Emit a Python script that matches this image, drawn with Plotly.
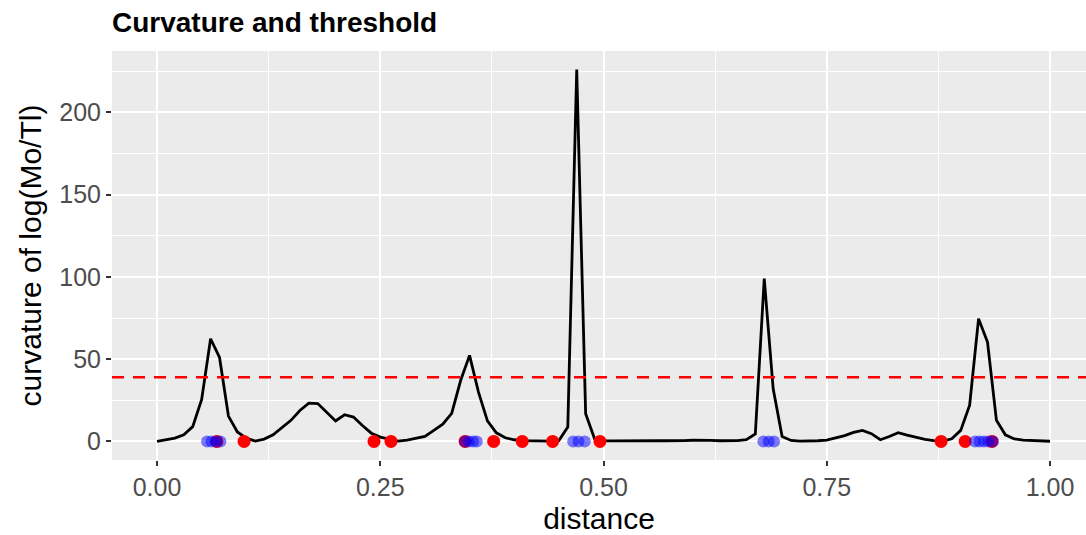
import plotly.graph_objects as go

# curvature sampled on a regular distance grid (0.00 .. 1.00, step 0.01)
distance = [i / 100 for i in range(101)]
curvature = [
    0.0, 1.0, 2.0, 4.0, 9.0, 25.5, 62.4, 51.0, 15.4, 5.7,      # 0.00-0.09
    2.0, 0.2, 1.4, 4.0, 8.3, 12.8, 18.8, 23.3, 23.0, 17.8,     # 0.10-0.19
    12.4, 16.2, 14.8, 9.7, 5.0, 2.6, 1.2, 0.2, 0.8, 1.8,       # 0.20-0.29
    3.0, 6.7, 10.5, 17.0, 37.0, 52.3, 30.0, 12.5, 5.2, 2.2,    # 0.30-0.39
    1.0, 0.5, 0.3, 0.2, 0.2, 0.5, 8.7, 226.0, 16.8, 1.6,       # 0.40-0.49
    0.3, 0.3, 0.4, 0.4, 0.5, 0.5, 0.5, 0.4, 0.3, 0.5,          # 0.50-0.59
    0.7, 0.8, 0.6, 0.4, 0.3, 0.5, 1.0, 4.5, 99.0, 32.0,        # 0.60-0.69
    3.0, 0.6, 0.2, 0.1, 0.4, 0.8, 2.0, 3.5, 5.5, 6.7,          # 0.70-0.79
    4.7, 1.0, 3.0, 5.3, 3.8, 2.3, 1.2, 0.5, 0.2, 1.6,          # 0.80-0.89
    6.7, 22.0, 74.6, 60.4, 12.8, 4.0, 1.5, 0.8, 0.5, 0.3,      # 0.90-0.99
    0.1,                                                       # 1.00
]
threshold = 39.0

# candidate positions (red) and positions flagged above threshold (blue)
red_x = [0.067, 0.0975, 0.243, 0.262, 0.345, 0.377, 0.409, 0.443, 0.496,
         0.878, 0.905, 0.935]
blue_x = [0.056, 0.061, 0.066, 0.071,
          0.345, 0.349, 0.354, 0.358,
          0.466, 0.472, 0.479,
          0.679, 0.685, 0.691,
          0.916, 0.921, 0.926, 0.931, 0.936]

x_ticks = [0.0, 0.25, 0.5, 0.75, 1.0]
x_tick_text = ["0.00", "0.25", "0.50", "0.75", "1.00"]
y_ticks = [0, 50, 100, 150, 200]

FONT = "Liberation Sans, Arial, sans-serif"

fig = go.Figure()
fig.add_trace(go.Scatter(
    x=distance, y=curvature, mode="lines",
    line=dict(color="black", width=2.8), hoverinfo="skip", showlegend=False,
))
fig.add_hline(y=threshold, line=dict(color="#FF0000", width=2.6, dash="12px,9px"))
fig.add_trace(go.Scatter(
    x=red_x, y=[0] * len(red_x), mode="markers",
    marker=dict(color="#FF0000", size=13, line=dict(width=0)), showlegend=False,
))
fig.add_trace(go.Scatter(
    x=blue_x, y=[0] * len(blue_x), mode="markers",
    marker=dict(color="rgba(0,0,255,0.5)", size=12, line=dict(width=0)), showlegend=False,
))

fig.update_layout(
    width=1086, height=535,
    margin=dict(l=112, r=0, t=51, b=75),
    paper_bgcolor="white", plot_bgcolor="#EBEBEB",
    font=dict(family=FONT, color="black"),
    title=dict(
        text="<b>Curvature and threshold</b>",
        font=dict(family=FONT, size=28, color="black"),
        x=112 / 1086, xanchor="left", xref="container",
        y=1 - 22 / 535, yanchor="middle", yref="container",
    ),
    xaxis=dict(
        range=[-0.0504, 1.0403], tickvals=x_ticks, ticktext=x_tick_text,
        showgrid=True, gridcolor="white", gridwidth=2, zeroline=False,
        ticks="outside", ticklen=5, tickwidth=1.5, tickcolor="#333333",
        tickfont=dict(size=25, color="#4D4D4D"),
        minor=dict(tickvals=[0.125, 0.375, 0.625, 0.875], showgrid=True,
                   gridcolor="white", gridwidth=1, ticks=""),
        title=dict(text="distance", font=dict(size=30, color="black"), standoff=8),
        showline=False,
    ),
    yaxis=dict(
        range=[-11.3, 237.3], tickvals=y_ticks,
        showgrid=True, gridcolor="white", gridwidth=2, zeroline=False,
        ticks="outside", ticklen=5, tickwidth=1.5, tickcolor="#333333",
        tickfont=dict(size=25, color="#4D4D4D"),
        minor=dict(tickvals=[25, 75, 125, 175, 225], showgrid=True,
                   gridcolor="white", gridwidth=1, ticks=""),
        title=dict(text="curvature of log(Mo/Tl)", font=dict(size=30, color="black"), standoff=8),
        showline=False,
    ),
)

fig.write_html("out.html")
